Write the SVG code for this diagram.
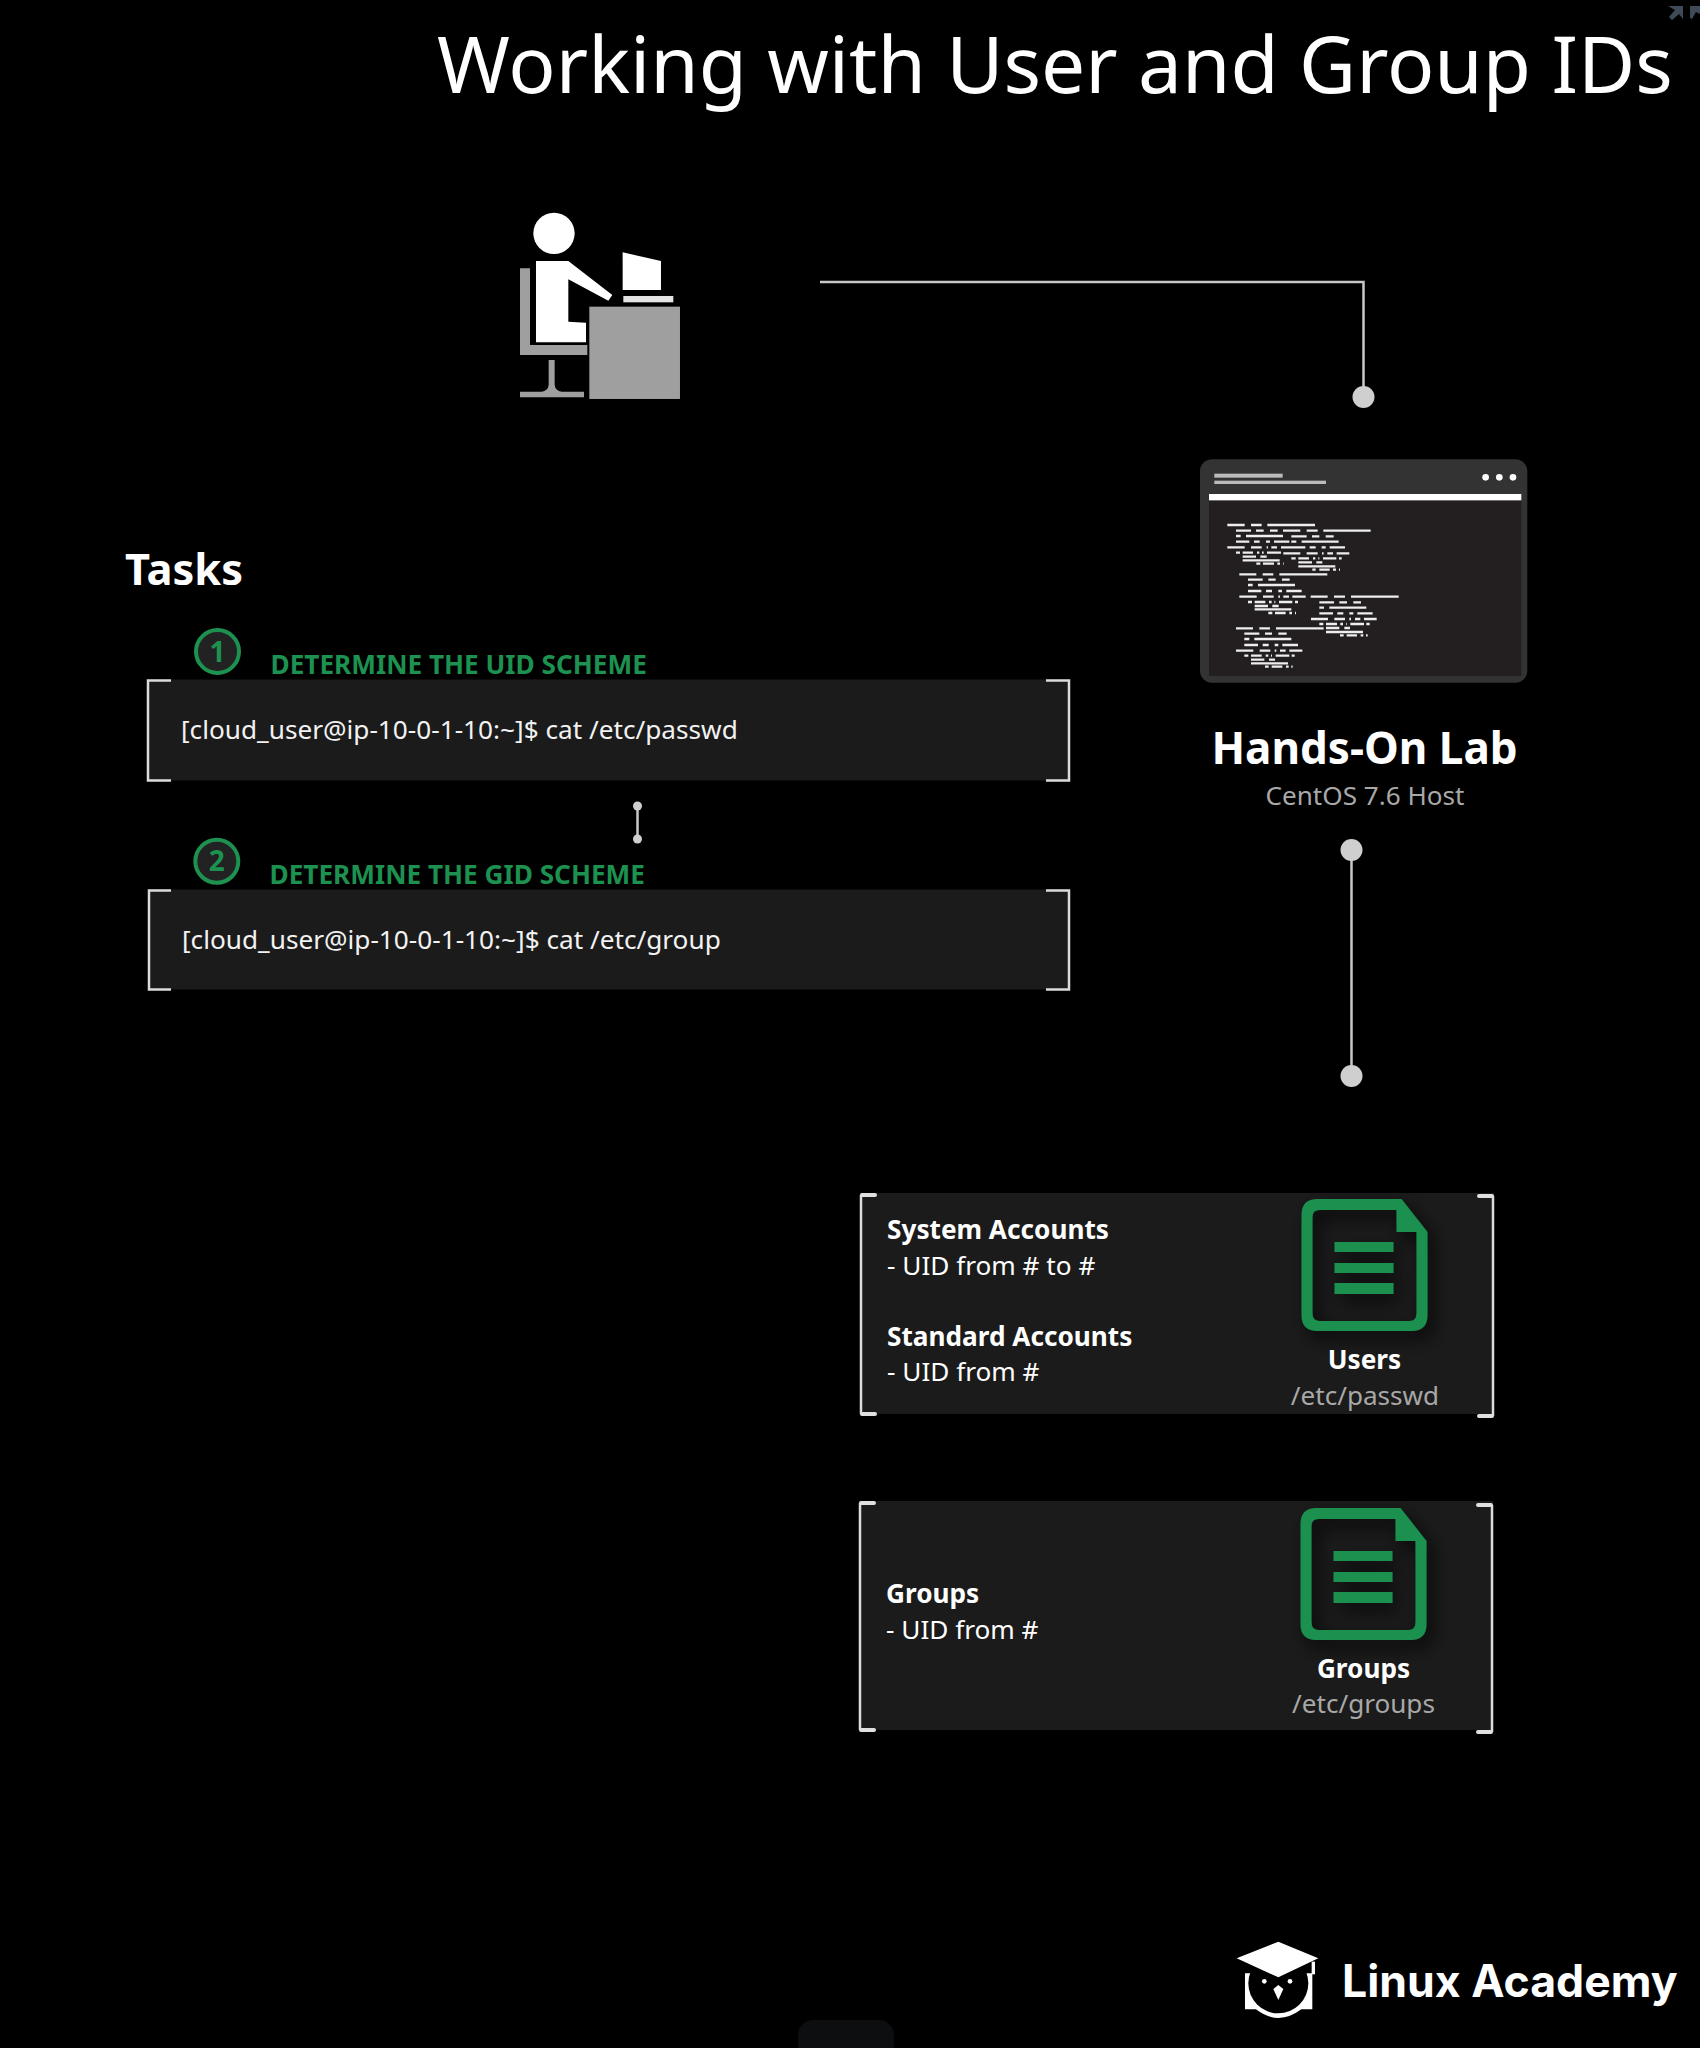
<svg xmlns="http://www.w3.org/2000/svg" width="1700" height="2048" viewBox="0 0 1700 2048">
<style>
text{font-family:"Noto Sans","Open Sans","Liberation Sans",sans-serif;fill:#fff}
.b{font-weight:700}
.lbl{font-size:26.2px}
.cmd{font-size:26.2px;fill:#f2f2f2}
.sub{font-size:26.1px;fill:#a8a8a8}
.grn{font-size:26.2px;font-weight:700;fill:#1c9150}
.dig{font-size:28px;font-weight:700;fill:#1c9150}
.panel{fill:#1b1b1b}
.brk{fill:none;stroke:#dcdcdc;stroke-width:2.5}
.tick{fill:none;stroke:#e0e0e0;stroke-width:4;stroke-linecap:round}
.cn{fill:none;stroke:#c8c8c8;stroke-width:2.5}
.dot{fill:#cfcfcf}
.doc{fill:#1c9150;fill-rule:evenodd}
.num{fill:#222;stroke:#1c9150;stroke-width:4}
</style>
<defs>
<filter id="sh" x="-30%" y="-30%" width="170%" height="170%"><feDropShadow dx="6" dy="8" stdDeviation="9" flood-color="#000" flood-opacity=".75"/></filter>
<path id="docI" d="M16,0H100L126,33V116Q126,132 110,132H16Q0,132 0,116V16Q0,0 16,0ZM18,11Q11,11 11,18V114Q11,122 18,122H108Q115,122 115,114V33H95V11ZM33,43H92V53H33ZM33,64H92V74H33ZM33,84H92V95H33Z"/>
</defs>
<rect width="1700" height="2048" fill="#000"/>
<g id="window-controls" fill="#3e4a57"><path d="M1668,6H1683V19L1679,14L1672,20L1669,17L1675,10Z"/><path d="M1690,6H1700V14L1696,12L1692,19L1690,18Z"/></g>
<rect id="bottom-tab" x="798" y="2020" width="96" height="40" rx="15" fill="#0c0e10"/>
<text id="title" x="437" y="92.500" style="font-size:78.400px">Working with User and Group IDs</text>
<g id="connectors">
<path class="cn" d="M820,282H1363.500V397"/><circle class="dot" cx="1363.500" cy="397" r="11"/>
<path class="cn" d="M1351.500,850V1076"/><circle class="dot" cx="1351.500" cy="850" r="11"/><circle class="dot" cx="1351.500" cy="1076" r="11"/>
<path class="cn" d="M637.500,806V839"/><circle class="dot" cx="637.500" cy="806" r="4.500"/><circle class="dot" cx="637.500" cy="839" r="4.500"/>
</g>
<g id="user" transform="translate(480,180) scale(.3333)">
<g fill="#9f9f9f"><path d="M120,265H150V495H322V525H120Z"/><path d="M206,540H224V615Q226,632 245,635H312V652H120V635H185Q204,632 206,615Z"/><rect x="328" y="380" width="272" height="277"/></g>
<g fill="#fff"><circle cx="222" cy="160" r="62"/><path d="M168,243H265L397,345L385,362L265,298V425L318,428V487H168Z"/><path d="M428,217L543,243V330H428Z"/></g>
<rect x="430" y="348" width="150" height="19" fill="#e4e4e4"/>
</g>
<g id="lab">
<g transform="translate(1180,440) scale(.3333)">
<rect x="60" y="58" width="982" height="670" rx="36" fill="#333"/>
<rect x="87" y="182" width="937" height="526" fill="#231f20"/>
<rect x="87" y="162" width="937" height="19" fill="#fff"/>
<rect x="103" y="101" width="205" height="12" fill="#bbb"/><rect x="103" y="122" width="335" height="10" fill="#bbb"/>
<g fill="#fff"><circle cx="917" cy="112" r="10"/><circle cx="958" cy="112" r="10"/><circle cx="999" cy="112" r="10"/></g>
</g>
<path transform="translate(1210,510) scale(.3333)" fill="none" stroke="#eee" stroke-width="7" d="M52,45H104M123,45H155M172,45H315M78,62H123M138,62H161M180,62H203M219,62H271M290,62H323M340,62H482M78,78H92M108,78H219M244,79H290M306,79H328M347,79H371M78,95H118M132,95H149M168,95H180M192,95H238M244,95H259M275,95H386M52,112H104M123,112H155M170,112H174M184,112H201M213,112H286M299,112H317M335,112H347M359,112H405M78,128H90M98,128H129M141,128H148M156,128H161M171,128H213M220,130H271M290,130H323M336,130H341M352,130H369M380,130H418M98,140H138M151,140H170M244,145H257M265,145H297M309,145H316M325,145H328M339,145H379M387,145H395M98,151H209M265,157H306M319,157H337M139,161H151M159,161H192M202,161H210M220,161H222M265,169H376M307,179H317M328,179H359M369,179H378M387,179H390M88,193H139M158,193H190M208,193H352M114,209H158M175,209H197M216,209H239M114,225H128M144,225H255M114,243H154M168,243H186M205,243H216M229,243H275M88,260H140M159,260H191M205,260H210M220,260H237M247,260H287M302,260H353M372,260H405M423,260H566M114,276H126M134,276H166M177,276H185M193,276H196M207,276H247M255,276H264M328,277H372M388,277H411M430,277H453M134,288H174M187,288H206M328,293H342M358,293H469M134,298H244M175,309H187M195,309H227M238,309H246M255,309H258M328,310H369M382,310H400M418,310H430M442,310H488M303,327H354M373,327H405M418,327H423M435,327H451M462,327H500M328,342H340M348,342H381M391,342H399M408,342H410M421,342H462M469,342H479M78,355H129M148,355H180M198,355H341M348,354H388M403,354H420M348,366H459M103,371H148M165,371H186M205,371H230M390,376H401M410,376H441M452,376H460M468,376H473M103,387H118M133,387H244M103,405H144M158,405H176M194,405H205M217,405H264M78,422H130M149,422H181M194,422H199M210,422H227M238,422H277M103,437H115M123,437H155M167,437H175M183,437H186M197,437H238M245,437H254M123,449H163M177,449H195M123,460H234M165,470H176M185,470H217M228,470H236M244,470H248"/>
<text class="b" x="1364.500" y="764" text-anchor="middle" style="font-size:44px">Hands-On Lab</text>
<text class="sub" x="1365" y="804.500" text-anchor="middle">CentOS 7.6 Host</text>
</g>
<text id="tasks" class="b" x="125" y="584.500" style="font-size:43.400px">Tasks</text>
<g id="task1">
<rect class="panel" x="147" y="679.500" width="922" height="101"/>
<path class="brk" d="M171,680.500H148V780.500H171M1046,680.500H1069V780.500H1046"/>
<circle class="num" cx="217.500" cy="651.500" r="21.500"/>
<text class="dig" x="217.500" y="661.500" text-anchor="middle">1</text>
<text class="grn" x="270.500" y="674">DETERMINE THE UID SCHEME</text>
<text class="cmd" x="181" y="739">[cloud_user@ip-10-0-1-10:~]$ cat /etc/passwd</text>
</g>
<g id="task2">
<rect class="panel" x="148" y="889.500" width="921" height="100"/>
<path class="brk" d="M171,890.500H149V989.500H171M1046,890.500H1069V989.500H1046"/>
<circle class="num" cx="216.800" cy="861.300" r="21.500"/>
<text class="dig" x="216.800" y="871" text-anchor="middle">2</text>
<text class="grn" x="269.500" y="884">DETERMINE THE GID SCHEME</text>
<text class="cmd" x="182" y="948.500">[cloud_user@ip-10-0-1-10:~]$ cat /etc/group</text>
</g>
<g id="users">
<rect class="panel" x="860" y="1193" width="634" height="221"/>
<path class="brk" d="M861,1195V1414M1493,1196V1416"/>
<path class="tick" d="M862,1195H875M862,1414H875M1479,1196H1492M1479,1416H1492"/>
<use href="#docI" class="doc" x="1301.500" y="1199" filter="url(#sh)"/>
<text class="b lbl" x="887" y="1239">System Accounts</text>
<text class="lbl" x="887" y="1275">- UID from # to #</text>
<text class="b lbl" x="887" y="1346">Standard Accounts</text>
<text class="lbl" x="887" y="1381">- UID from #</text>
<text class="b lbl" x="1364.500" y="1369" text-anchor="middle">Users</text>
<text class="sub" x="1365" y="1404.500" text-anchor="middle">/etc/passwd</text>
</g>
<g id="groups">
<rect class="panel" x="859" y="1501" width="634" height="229"/>
<path class="brk" d="M860,1503V1730M1492,1505V1732"/>
<path class="tick" d="M861,1503H874M861,1730H874M1478,1505H1491M1478,1732H1491"/>
<use href="#docI" class="doc" x="1300.500" y="1508" filter="url(#sh)"/>
<text class="b lbl" x="886" y="1603">Groups</text>
<text class="lbl" x="886" y="1639">- UID from #</text>
<text class="b lbl" x="1363.500" y="1677.500" text-anchor="middle">Groups</text>
<text class="sub" x="1363.500" y="1713" text-anchor="middle">/etc/groups</text>
</g>
<g id="logo">
<g transform="translate(1220,1920) scale(.3333)">
<path d="M75,160V268H108Q175,320 244,268H277V160Z" fill="#fff"/>
<circle cx="175" cy="190" r="90" fill="#000"/>
<path d="M50,115L175,65L295,115L175,172Z" fill="#fff" stroke="#000" stroke-width="6" paint-order="stroke"/>
<rect x="275" y="125" width="10" height="38" fill="#fff"/>
<g fill="#fff"><circle cx="133" cy="184" r="7"/><circle cx="210" cy="184" r="7"/><path d="M160,207L175,195L190,207L175,240Z"/></g>
</g>
<text x="1342" y="1996.500" style="font-family:Inter,'Noto Sans',sans-serif;font-weight:700;font-size:44.600px">Linux Academy</text>
</g>
</svg>
